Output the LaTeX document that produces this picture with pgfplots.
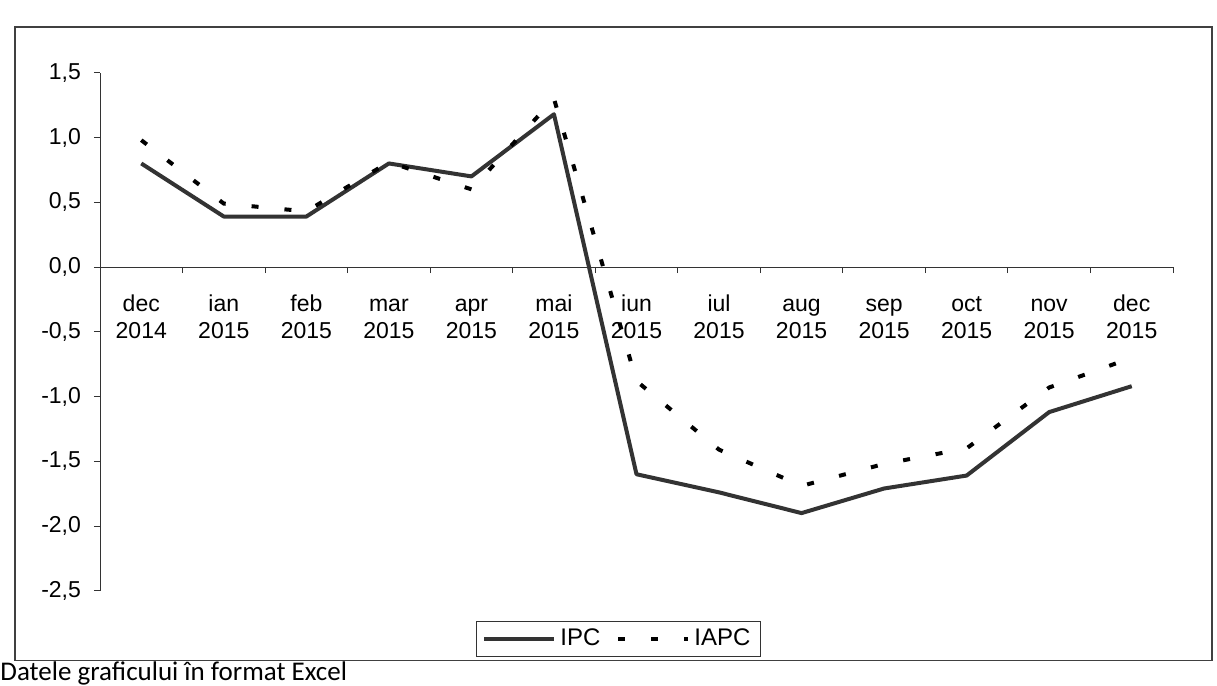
\documentclass[border=0pt]{standalone}
\usepackage{pgfplots}
\pgfplotsset{compat=1.18}
\usepackage{fontspec}
\setmainfont{Liberation Sans}
\newfontfamily\calibri{Carlito}
\pgfplotstableread{
x ipc iapc
0 0.80 0.98
1 0.39 0.49
2 0.39 0.43
3 0.80 0.81
4 0.70 0.60
5 1.18 1.30
6 -1.60 -0.88
7 -1.74 -1.41
8 -1.90 -1.69
9 -1.71 -1.52
10 -1.61 -1.40
11 -1.12 -0.93
12 -0.92 -0.70
}\datatable
\begin{document}
\begin{tikzpicture}
\useasboundingbox (0pt,0pt) rectangle (608.5pt,343pt);
\draw[black!75, line width=0.6pt] (7.5pt,12.8pt) rectangle (606pt,329.5pt);
\begin{axis}[
  at={(50pt,47.6pt)}, anchor=south west,
  scale only axis, width=536.5pt, height=259pt,
  xmin=-0.5, xmax=12.5, ymin=-2.5, ymax=1.5,
  axis x line=middle, axis y line=left,
  axis line style={-, black!80, line width=0.5pt},
  tick align=outside,
  tick style={black!80, line width=0.5pt},
  major tick length=3pt,
  ytick={-2.5,-2,-1.5,-1,-0.5,0,0.5,1,1.5},
  yticklabel style={font=\fontsize{11.5}{13}\selectfont, xshift=-3pt},
  /pgf/number format/.cd, use comma, fixed, fixed zerofill, precision=1, assume math mode=true,
  /pgfplots/.cd,
  xtick={-0.5,0.5,...,12.5},
  xticklabels={},
  extra x ticks={0,1,2,3,4,5,6,7,8,9,10,11,12},
  extra x tick labels={\strut dec\\\strut 2014,\strut ian\\\strut 2015,\strut feb\\\strut 2015,\strut mar\\\strut 2015,\strut apr\\\strut 2015,\strut mai\\\strut 2015,\strut iun\\\strut 2015,\strut iul\\\strut 2015,\strut aug\\\strut 2015,\strut sep\\\strut 2015,\strut oct\\\strut 2015,\strut nov\\\strut 2015,\strut dec\\\strut 2015},
  extra x tick style={major tick length=0pt, xticklabel style={align=center, anchor=north, font=\fontsize{11.5}{13.5}\selectfont, yshift=-9pt}},
  legend style={at={(0.4832,-0.093)}, anchor=center, legend columns=2, draw=black!80, line width=0.5pt,
    font=\fontsize{12}{14}\selectfont, inner xsep=3pt, inner ysep=2pt,
    /tikz/every even column/.append style={column sep=6pt}},
  legend image code/.code={\draw[#1] (0pt,0pt) -- (35pt,0pt);},
]
\addplot[black!80, line width=2pt, line join=round] table[x=x, y=ipc] {\datatable};
\addlegendentry{IPC}
\addplot[black, line width=2pt, dash pattern=on 3.5pt off 13pt] table[x=x, y=iapc] {\datatable};
\addlegendentry{IAPC}
\end{axis}
\node[anchor=base west, inner sep=0pt, font=\calibri\fontsize{13.5}{16}\selectfont] at (0pt,2.9pt) {Datele graficului în format Excel};
\end{tikzpicture}
\end{document}
